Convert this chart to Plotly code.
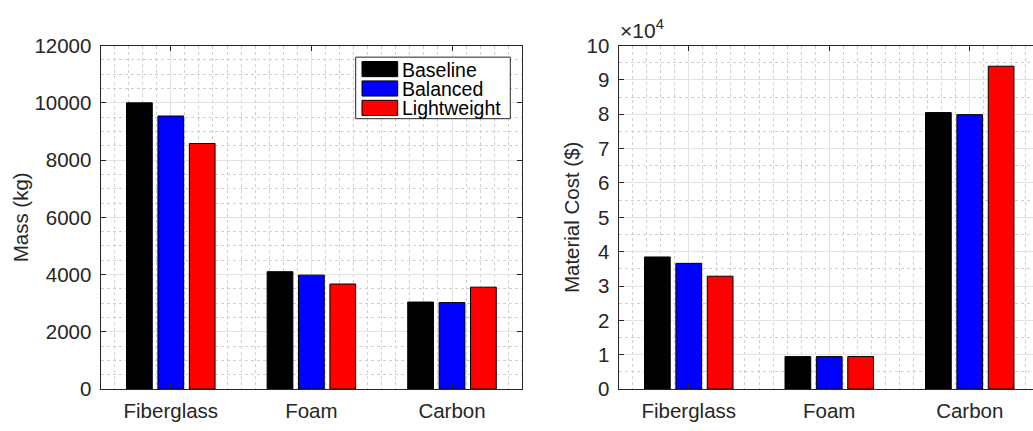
import plotly.graph_objects as go

categories = ["Fiberglass", "Foam", "Carbon"]
x_pos = [1, 2, 3]
series_names = ["Baseline", "Balanced", "Lightweight"]
series_colors = ["#000000", "#0000ff", "#ff0000"]

mass_baseline = [10000, 4100, 3040]
mass_balanced = [9540, 3980, 3020]
mass_lightweight = [8580, 3670, 3560]

cost_baseline = [38450, 9450, 80500]
cost_balanced = [36600, 9450, 79900]
cost_lightweight = [32850, 9450, 94000]

mass_ticks = [0, 2000, 4000, 6000, 8000, 10000, 12000]
cost_ticks = [0, 10000, 20000, 30000, 40000, 50000, 60000, 70000, 80000, 90000, 100000]
cost_ticktext = ["0", "1", "2", "3", "4", "5", "6", "7", "8", "9", "10"]

FONT = "Liberation Sans, Arial, Helvetica, sans-serif"
TXT = "#262626"
FS = 20.5
W, H = 1033, 431

fig = go.Figure()
mass_series = [mass_baseline, mass_balanced, mass_lightweight]
cost_series = [cost_baseline, cost_balanced, cost_lightweight]
for name, color, vals in zip(series_names, series_colors, mass_series):
    fig.add_trace(go.Bar(x=x_pos, y=vals, name=name, marker=dict(color=color, line=dict(color="#000000", width=1)),
                         xaxis="x", yaxis="y", showlegend=False))
for name, color, vals in zip(series_names, series_colors, cost_series):
    fig.add_trace(go.Bar(x=x_pos, y=vals, name=name, marker=dict(color=color, line=dict(color="#000000", width=1)),
                         xaxis="x2", yaxis="y2", showlegend=False))

ydom = [1 - 398.3 / H, 1 - 35.5 / H]
grid_major = "#e3e3e3"
grid_minor = "#cfcfcf"

def xaxis_cfg(domain, rng, mirror):
    return dict(domain=domain, range=rng, tickvals=x_pos, ticktext=categories,
                showline=True, linecolor=TXT, linewidth=1, mirror=mirror,
                ticks="inside", ticklen=5, tickcolor=TXT, ticklabelstandoff=3,
                showgrid=True, gridcolor=grid_major, gridwidth=1, zeroline=False,
                minor=dict(dtick=0.1, tick0=0, showgrid=True, gridcolor=grid_minor, griddash="dot", gridwidth=1, ticks=""),
                tickfont=dict(family=FONT, size=FS, color=TXT))

def yaxis_cfg(anchor, rng, tickvals, ticktext, minor_dtick, title, mirror, standoff):
    return dict(domain=ydom, anchor=anchor, range=rng, tickvals=tickvals, ticktext=ticktext,
                showline=True, linecolor=TXT, linewidth=1, mirror=mirror,
                ticks="inside", ticklen=5, tickcolor=TXT, ticklabelstandoff=4,
                showgrid=True, gridcolor=grid_major, gridwidth=1, zeroline=False,
                minor=dict(dtick=minor_dtick, tick0=0, showgrid=True, gridcolor=grid_minor, griddash="dot", gridwidth=1, ticks=""),
                tickfont=dict(family=FONT, size=FS, color=TXT),
                title=dict(text=title, font=dict(family=FONT, size=FS, color=TXT), standoff=standoff))

fig.update_layout(
    width=W, height=H,
    margin=dict(l=0, r=0, t=0, b=0),
    paper_bgcolor="white", plot_bgcolor="white",
    barmode="group", bargap=0.33, bargroupgap=0.18,
    xaxis=xaxis_cfg([100.5 / W, 522.3 / W], [0.5, 3.5], "ticks"),
    yaxis=yaxis_cfg("x", [0, 12000], mass_ticks, [str(t) for t in mass_ticks], 500, "Mass (kg)", "ticks", 0),
    xaxis2=dict(xaxis_cfg([618.5 / W, 1.0], [0.5, 0.5 + (W - 618.5) / 140.5], "ticks"), anchor="y2"),
    yaxis2=yaxis_cfg("x2", [0, 100000], cost_ticks, cost_ticktext, 5000, "Material Cost ($)", False, 1),
    showlegend=False,
)

# exponent label
fig.add_annotation(xref="paper", yref="paper", x=618 / W, y=1 - 34 / H, xanchor="left", yanchor="bottom",
                   text="×10<sup>4</sup>", showarrow=False, font=dict(family=FONT, size=21, color=TXT))

# custom legend (box + swatches)
def px(x):
    return x / W

def py(y):
    return 1 - y / H

shapes = [dict(type="rect", xref="paper", yref="paper", x0=px(355.7), x1=px(510.3), y0=py(112.7), y1=py(47.7),
               fillcolor="white", line=dict(color=TXT, width=1), layer="above")]
row_tops = [52.3, 72.8, 93.3]
for name, color, top in zip(series_names, series_colors, row_tops):
    shapes.append(dict(type="rect", xref="paper", yref="paper", x0=px(362), x1=px(397.7), y0=py(top + 16), y1=py(top),
                       fillcolor=color, line=dict(color="#000000", width=1), layer="above"))
    fig.add_annotation(xref="paper", yref="paper", x=px(400.5), y=py(top + 8.5), xanchor="left", yanchor="middle",
                       borderpad=0,
                       text=name, showarrow=False, font=dict(family=FONT, size=19.5, color="#000000"))
fig.update_layout(shapes=shapes)

fig.write_html("out.html")
